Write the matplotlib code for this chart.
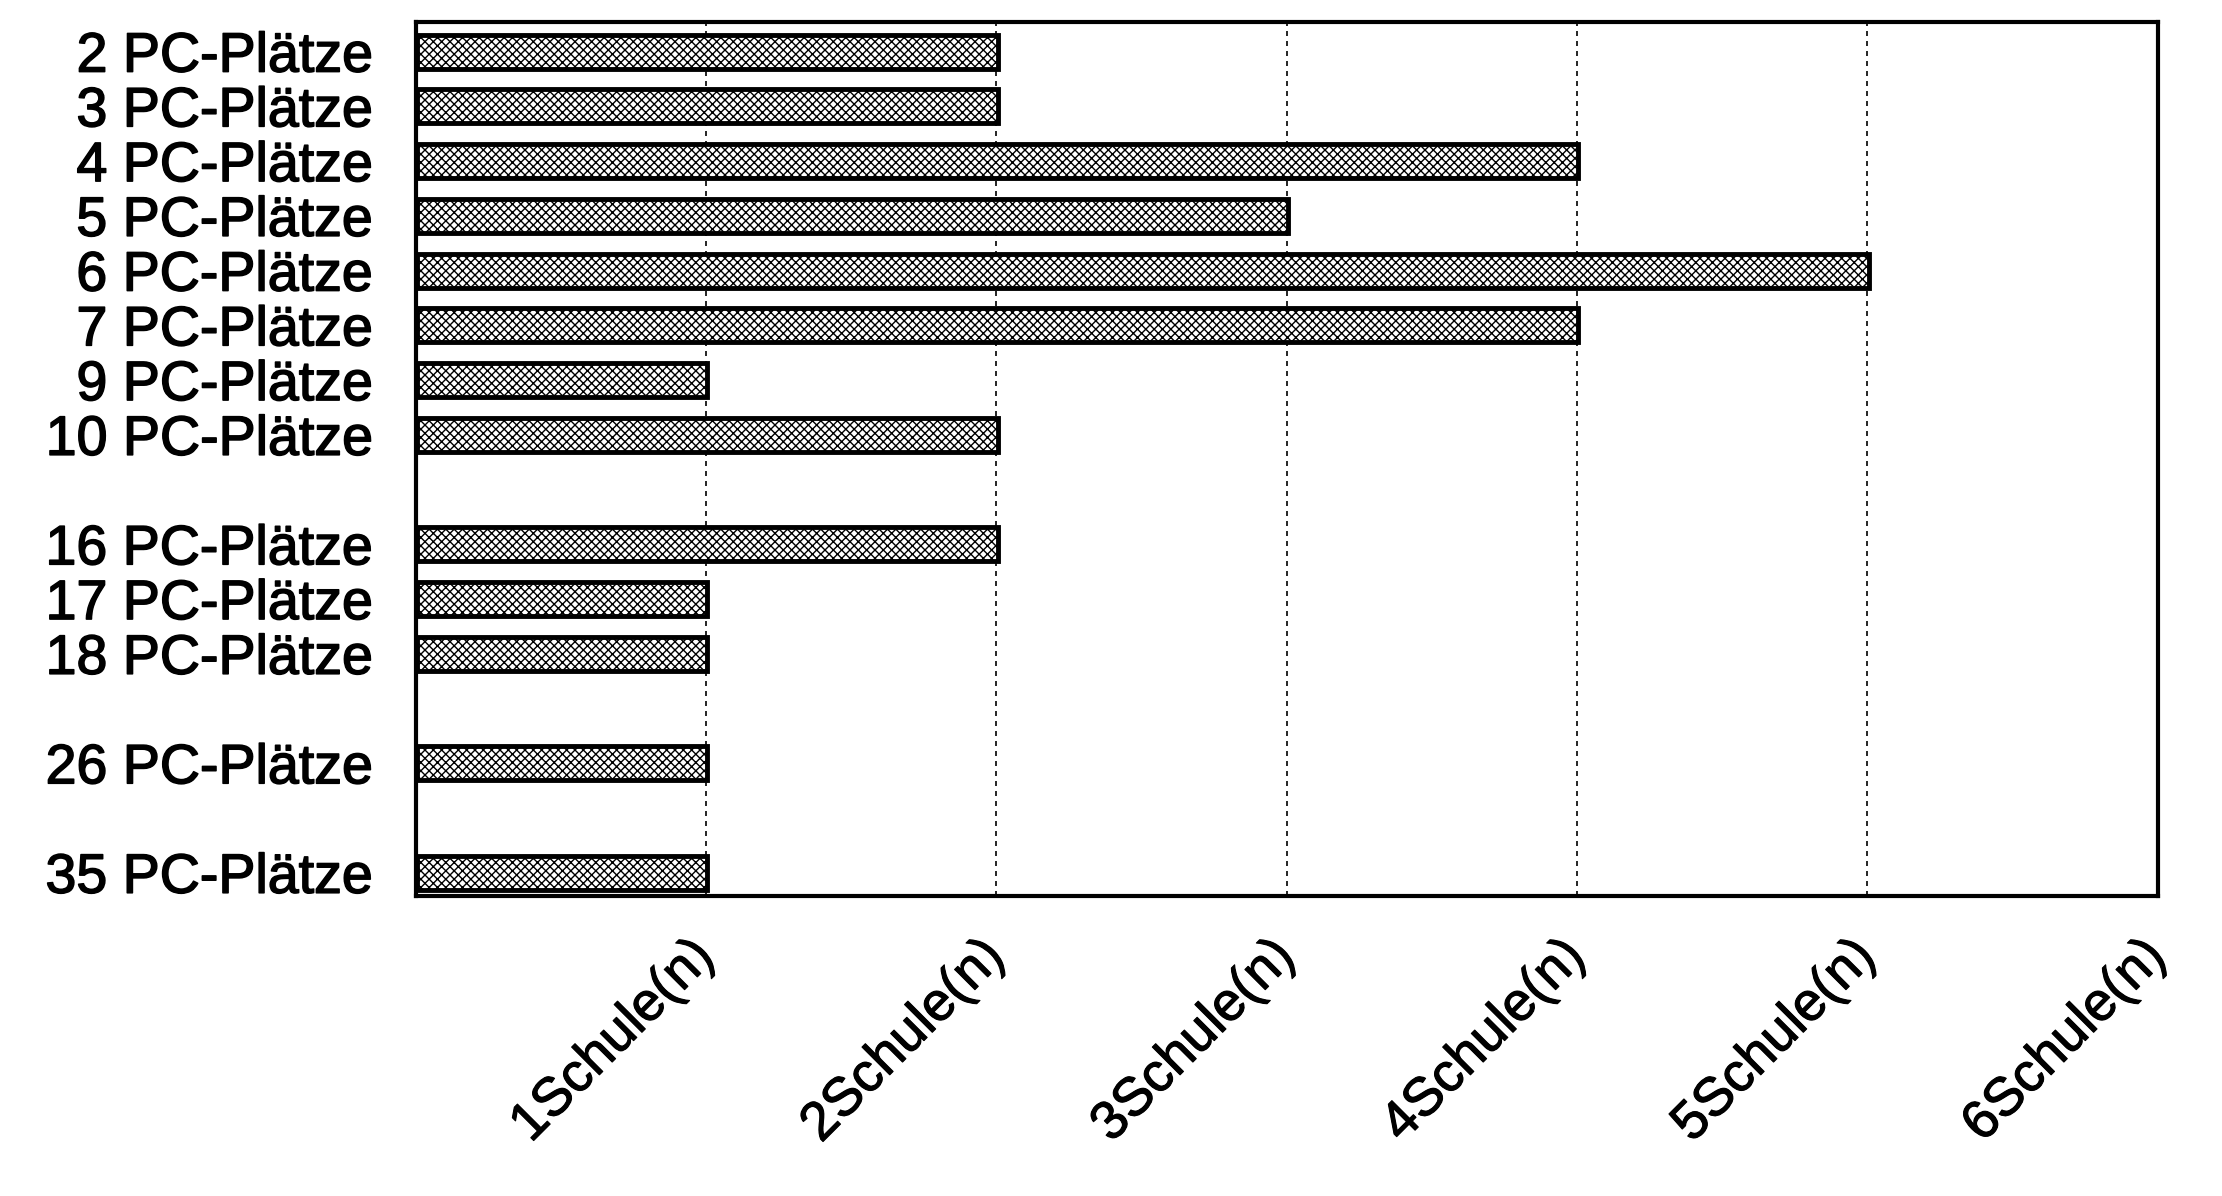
import matplotlib
matplotlib.use("Agg")
import matplotlib.pyplot as plt
import matplotlib.patheffects as pe
import numpy as np

# data
categories = [
    "2 PC-Plätze", "3 PC-Plätze", "4 PC-Plätze", "5 PC-Plätze",
    "6 PC-Plätze", "7 PC-Plätze", "9 PC-Plätze", "10 PC-Plätze",
    "16 PC-Plätze", "17 PC-Plätze", "18 PC-Plätze",
    "26 PC-Plätze", "35 PC-Plätze",
]
# row slots (the original leaves empty rows between some groups)
slots = [0, 1, 2, 3, 4, 5, 6, 7, 9, 10, 11, 13, 15]
schools = [2, 2, 4, 3, 5, 4, 1, 2, 2, 1, 1, 1, 1]
x_ticks = [1, 2, 3, 4, 5, 6]
x_labels = [f"{n}Schule(n)" for n in x_ticks]

plt.rcParams["font.family"] = ["Liberation Sans", "DejaVu Sans"]
plt.rcParams["hatch.linewidth"] = 1.0
plt.rcParams["hatch.color"] = "#333333"

fig = plt.figure(figsize=(22.22, 11.96), dpi=100)
ax = fig.add_axes([0.187, 0.251, 0.784, 0.731])

ax.barh(
    slots,
    schools,
    height=0.62,
    left=0.005,
    color="white",
    edgecolor="black",
    linewidth=3.5,
    hatch="xxxx",
    zorder=3,
)

ax.set_xlim(0, 6)
ax.set_ylim(15.42, -0.55)

ax.set_yticks(slots)
ax.set_yticklabels(categories, fontsize=40)
ax.set_xticks(x_ticks)
ax.set_xticklabels(x_labels, fontsize=39, rotation=45, ha="right",
                   rotation_mode="anchor")
ax.tick_params(axis="both", length=0)
ax.tick_params(axis="y", pad=31)
ax.tick_params(axis="x", pad=38)
for lbl in ax.get_xticklabels():
    lbl.set_verticalalignment("center")
    lbl.set_path_effects([pe.withStroke(linewidth=0.8, foreground="black")])
for lbl in ax.get_yticklabels():
    lbl.set_path_effects([pe.withStroke(linewidth=1.1, foreground="black")])

ax.grid(axis="x", linestyle=(0, (3, 3)), color="black", linewidth=1.2, zorder=1)
for s in ax.spines.values():
    s.set_linewidth(3)

fig.savefig("out.png", dpi=100, facecolor="white")
